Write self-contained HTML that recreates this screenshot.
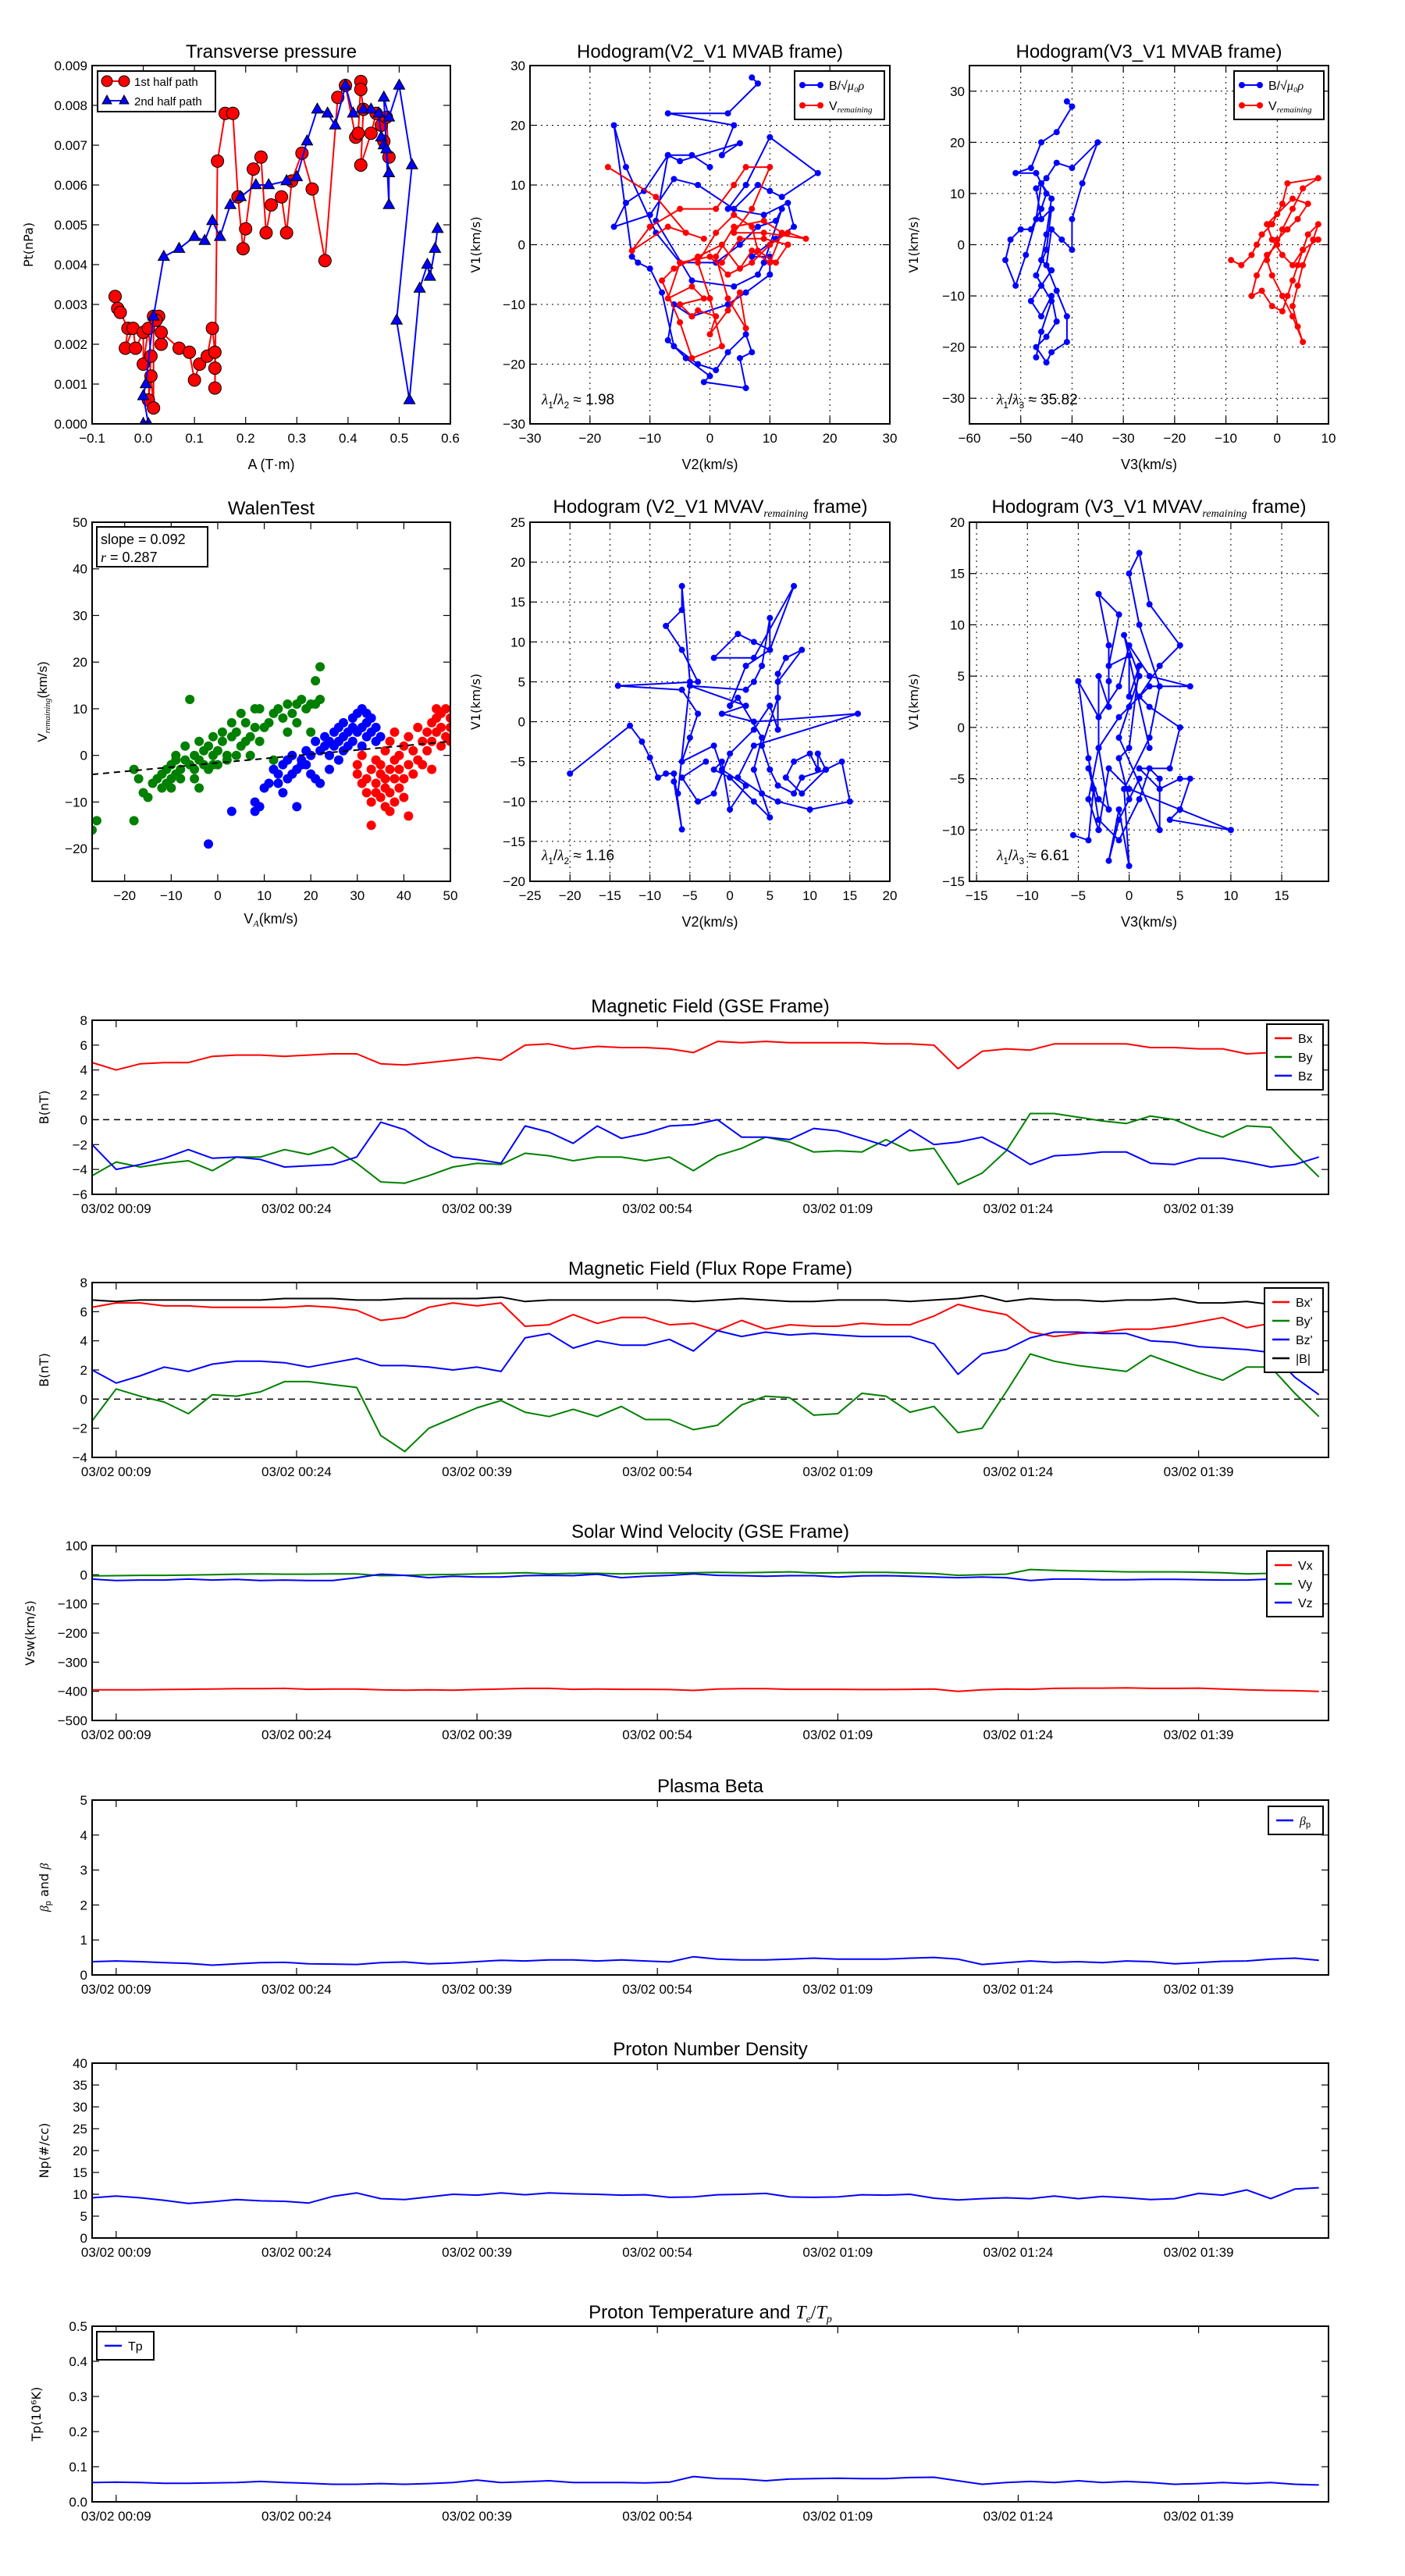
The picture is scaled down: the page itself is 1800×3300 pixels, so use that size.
<!DOCTYPE html>
<html><head><meta charset="utf-8">
<style>
html,body{margin:0;padding:0;background:#fff;}
svg{display:block;}
text{font-family:"Liberation Sans Narrow","Liberation Sans",sans-serif;fill:#000;}
</style></head>
<body>
<svg id="fig" xmlns="http://www.w3.org/2000/svg" width="1800" height="3300" viewBox="0 0 1800 3300"></svg>
<script>
// ---------- DATA ----------
const ptRedA = [-0.055,-0.05,-0.045,-0.03,-0.035,-0.02,-0.015,0.0,0.0,0.01,0.015,0.01,0.015,0.02,0.02,0.03,0.025,0.035,0.035,0.07,0.09,0.1,0.11,0.125,0.135,0.14,0.14,0.14,0.145,0.16,0.175,0.185,0.195,0.2,0.215,0.23,0.24,0.25,0.27,0.28,0.29,0.31,0.33,0.355,0.38,0.395,0.415,0.42,0.425,0.425,0.43,0.425,0.445,0.455,0.465,0.475,0.48,0.47];
const ptRedP = [0.0032,0.0029,0.0028,0.0024,0.0019,0.0024,0.0019,0.0023,0.0015,0.0024,0.0017,0.0006,0.0012,0.0004,0.0027,0.0027,0.0026,0.0020,0.0023,0.0019,0.0018,0.0011,0.0015,0.0017,0.0024,0.0018,0.0014,0.0009,0.0066,0.0078,0.0078,0.0057,0.0044,0.0049,0.0064,0.0067,0.0048,0.0055,0.0057,0.0048,0.0061,0.0068,0.0059,0.0041,0.0082,0.0085,0.0072,0.0073,0.0086,0.0084,0.0079,0.0065,0.0073,0.0078,0.0075,0.0077,0.0067,0.0071];
const ptBlueA = [0.0,0.01,0.0,0.005,0.02,0.04,0.07,0.1,0.12,0.135,0.15,0.17,0.19,0.22,0.245,0.28,0.3,0.32,0.34,0.36,0.375,0.395,0.41,0.43,0.445,0.46,0.465,0.47,0.475,0.48,0.48,0.47,0.48,0.5,0.525,0.495,0.52,0.54,0.555,0.56,0.57,0.575];
const ptBlueP = [0.0,0.0,0.0007,0.001,0.0027,0.0042,0.0044,0.0047,0.0046,0.0051,0.0047,0.0055,0.0057,0.006,0.006,0.0061,0.0062,0.0071,0.0079,0.0078,0.0075,0.0085,0.0078,0.0079,0.0079,0.0078,0.0072,0.007,0.0069,0.0063,0.0055,0.0082,0.0077,0.0085,0.0065,0.0026,0.0006,0.0034,0.004,0.0037,0.0044,0.0049];

const hB_blueX = [7,8,3,-7,4,2,5,-5,-7,-11,-14,-16,-10,-6,-2,4,8,10,12,18,10,6,3,9,13,14,11,7,10,10,6,3,-3,-6,-7,-4,0,-1,6,5,7,6,3,1,-2,-6,-8,-10,-12,-13,-16,-14,-9,-5,1,5,8,11,12,9,8,4,-3,-9,-7,-3,0];
const hB_blueY = [28,27,22,22,20,15,17,14,15,9,7,3,5,11,10,6,10,9,8,12,18,10,6,5,7,3,1,-2,-2,-5,-8,-10,-12,-10,-16,-19,-22,-23,-24,-19,-18,-15,-18,-21,-20,-17,-8,-4,-3,-2,20,13,2,-3,-3,0,3,4,6,-3,-5,-7,-6,4,15,15,13];
const hB_redX = [-17,-9,-4,-1,-7,-13,-10,-5,1,4,6,10,7,4,9,16,13,10,7,3,0,-5,-7,-3,-1,-5,-3,-2,1,0,3,5,6,3,1,4,9,12,10,7,5,2,-2,-6,-8,-5,-3,2,0,-2,1,4,7,8,11,13,9,5,2];
const hB_redY = [13,8,2,1,3,-1,3,6,6,10,13,13,6,2,2,1,2,0,-3,-5,-2,-3,-9,-7,-9,-10,-12,-11,-12,-15,-11,-8,-14,-9,-2,3,4,2,-3,-1,-4,0,-2,-4,-6,-13,-19,-17,-9,-3,2,5,3,-1,-3,0,1,1,-3];

const hC_blueX = [-41,-40,-43,-46,-48,-51,-47,-45,-46,-48,-50,-52,-53,-51,-49,-47,-46,-44,-45,-46,-44,-46,-48,-46,-44,-43,-45,-47,-45,-44,-41,-41,-43,-45,-44,-42,-40,-40,-38,-35,-40,-43,-45,-47,-46,-44,-45,-47,-44,-46,-47];
const hC_blueY = [28,27,22,20,15,14,14,10,7,3,3,1,-3,-8,-2,5,12,9,2,-3,-5,-8,-11,-14,-10,-15,-18,-20,-23,-21,-19,-14,-9,-4,3,1,-1,5,12,20,15,16,13,11,5,7,-1,-6,-11,-17,-22];
const hC_redX = [-9,-7,-5,-4,-3,-1,1,2,8,5,3,1,0,-2,-4,-5,-3,-1,1,2,3,4,5,6,8,7,5,4,3,4,5,3,1,-1,-2,0,2,4,6,3,0,-2,-1,1,3,5,8];
const hC_redY = [-3,-4,-2,0,2,4,8,12,13,11,7,3,0,-2,-6,-10,-9,-12,-13,-10,-7,-4,-1,2,4,1,-4,-8,-12,-16,-19,-14,-10,-6,-3,1,3,5,8,9,6,4,1,-2,-4,-1,1];

const walGreenX = [-27,-26,-18,-18,-17,-16,-15,-14,-13,-12,-12,-11,-11,-10,-10,-10,-9,-9,-9,-8,-8,-7,-7,-6,-6,-5,-5,-5,-4,-4,-3,-3,-2,-2,-1,-1,0,0,1,1,2,2,3,3,4,4,5,5,6,6,7,8,8,9,9,10,11,12,12,13,14,15,15,16,17,17,18,19,20,20,21,21,22,22,-1,-4,7];
const walGreenY = [-16,-14,-3,-14,-5,-8,-9,-6,-5,-7,-4,-6,-3,-7,-2,-5,-1,-4,0,-3,-5,-1,2,-2,12,0,-3,-5,3,-1,1,-2,2,-3,0,4,1,-2,5,3,0,-1,7,4,5,0,2,9,3,7,4,6,10,3,10,6,7,9,-1,10,8,11,5,9,11,7,12,10,11,5,16,11,19,12,-2,-7,0];
const walBlueX = [-2,3,8,8,9,10,11,12,13,13,14,15,15,16,16,17,17,18,18,19,19,20,21,21,22,22,23,23,24,24,25,25,26,26,27,27,27,28,28,29,29,29,30,30,31,31,31,32,32,32,33,33,34,34,35,26,24,20,14];
const walBlueY = [-19,-12,-10,-12,-11,-7,-6,-3,-6,-4,-2,-5,-1,-4,0,-11,-3,-1,-2,1,-2,0,3,-5,-6,1,4,2,3,0,5,2,6,3,4,1,7,5,2,8,6,3,9,5,10,6,2,9,7,4,8,5,3,6,4,-1,-3,-4,-8];
const walRedX = [30,30,31,31,32,32,33,33,33,34,34,34,35,35,35,36,36,36,37,37,37,37,38,38,38,39,39,39,40,40,40,41,41,41,42,42,43,43,44,44,45,45,46,46,46,47,47,47,48,48,48,49,49,50,50,50,38,36];
const walRedY = [-4,-2,0,-6,-5,-8,-3,-10,-15,-1,-6,-8,-4,-9,-2,-5,-7,1,-3,-8,-12,3,-5,-1,-10,-7,0,-3,2,-5,-9,-2,4,-13,-4,1,-1,6,3,-2,5,1,7,-3,3,10,5,8,2,9,6,10,4,8,6,3,5,-11];
const walSlope = 0.092, walIntercept = -1.6;

const hE_X = [-20,-12.5,-11,-10,-9,-8,-7,-6,-7,-6.5,-5,-6,-6,-8,-6,-4,-14,-6,-4,-5,-6,-2,-1,2,0,-1,-2,0,3,5,3,4,1,0,2,5,8,3,-2,1,3,5,5,4,3,2,-5,2,-1,3,16,3,1,4,6,10,15,14,12,9,7,8,10,11,11,12,9,8,6,5,4,6,6,7,9,6,6,5,3,0,-2,-4,-6,-3];
const hE_Y = [-6.5,-0.5,-2.5,-4.5,-7,-6.5,-6.5,-13.5,-7.5,-9,5,17,14,12,9,5,4.5,4,1,-2,-5,-3,-6,-8,-11,-5,-6,-7,-10,-12,-6,-2,3,2,7,9,17,8,8,11,10,9,13,7,5,4,4.5,2,1,0,1,-3,-7,-9,-10,-11,-10,-5,-6,-9,-7,-5,-4,-6,-4,-6,-7,-9,-8,-6,-3,3,6,8,9,5,-1,2,-1,-4,-9,-10,-7,-5];
const hF_X = [-5.5,-4,-3.5,-4,-3,-2,-3,-3,-2,-2,-2,-3,-1,-2,0,0,1,0,-1,0,1,-1,-2,-1,0,-0.5,2,3,1,0,1,2,5,3,1,2,5,4,1,3,5,6,5,4,10,5,0,-2,-3,-4,-3,-1,2,6,2,0,-1,-3,-5,-4,-3,-1,1,2,3,3,-1,0,1,-0.5,2];
const hF_Y = [-10.5,-11,-6,-4,-7,-8,-2,5,2,4.5,8,13,11,6,7,3,6,-2,-3,-7,-5,-9,-13,-8,-13.5,-6,-1,4,10,15,17,12,8,6,3,2,0,-4,-4,-6,-5,-5,-8,-9,-10,-8,-6,-4,-10,-7,-2,1,4,4,5,8,4,1,4.5,-3,-9,-11,-7,-4,-5,-10,-1,2,5,9,-2];

// time series: minutes after 00:00, 2-min cadence
const tStart = 7, tStep = 2;
const tickMinutes = [9,24,39,54,69,84,99];
const tickLabels = ['03/02 00:09','03/02 00:24','03/02 00:39','03/02 00:54','03/02 01:09','03/02 01:24','03/02 01:39'];
const gseBx = [4.6,4.0,4.5,4.6,4.6,5.1,5.2,5.2,5.1,5.2,5.3,5.3,4.5,4.4,4.6,4.8,5.0,4.8,6.0,6.1,5.7,5.9,5.8,5.8,5.7,5.4,6.3,6.2,6.3,6.2,6.2,6.2,6.2,6.1,6.1,6.0,4.1,5.5,5.7,5.6,6.1,6.1,6.1,6.1,5.8,5.8,5.7,5.7,5.3,5.4,5.3,3.0];
const gseBy = [-4.5,-3.4,-3.8,-3.5,-3.3,-4.1,-3.0,-3.0,-2.4,-2.8,-2.2,-3.5,-5.0,-5.1,-4.5,-3.8,-3.5,-3.6,-2.7,-2.9,-3.3,-3.0,-3.0,-3.3,-3.0,-4.1,-2.9,-2.3,-1.4,-1.8,-2.6,-2.5,-2.6,-1.6,-2.5,-2.3,-5.2,-4.3,-2.5,0.5,0.5,0.2,-0.1,-0.3,0.3,0.0,-0.8,-1.4,-0.5,-0.6,-2.7,-4.6];
const gseBz = [-2.0,-4.0,-3.6,-3.1,-2.4,-3.1,-3.0,-3.2,-3.8,-3.7,-3.6,-3.0,-0.2,-0.8,-2.1,-3.0,-3.2,-3.5,-0.5,-1.0,-1.9,-0.5,-1.5,-1.1,-0.5,-0.4,0.0,-1.4,-1.4,-1.6,-0.7,-0.9,-1.5,-2.1,-0.8,-2.0,-1.8,-1.4,-2.4,-3.6,-2.9,-2.8,-2.6,-2.6,-3.5,-3.6,-3.1,-3.1,-3.4,-3.8,-3.6,-3.0];
const frBx = [6.3,6.6,6.6,6.4,6.4,6.3,6.3,6.3,6.3,6.4,6.3,6.1,5.4,5.6,6.3,6.6,6.4,6.6,5.0,5.1,5.8,5.2,5.6,5.6,5.1,5.2,4.7,5.4,4.8,5.1,5.0,5.0,5.2,5.1,5.1,5.7,6.5,6.1,5.8,4.6,4.3,4.5,4.6,4.8,4.8,5.0,5.3,5.6,4.9,5.2,5.7,6.3];
const frBy = [-1.5,0.7,0.2,-0.2,-1.0,0.3,0.2,0.5,1.2,1.2,1.0,0.8,-2.5,-3.6,-2.0,-1.3,-0.6,-0.1,-0.9,-1.2,-0.7,-1.2,-0.5,-1.4,-1.4,-2.1,-1.8,-0.4,0.2,0.1,-1.1,-1.0,0.4,0.2,-0.9,-0.5,-2.3,-2.0,0.5,3.1,2.6,2.3,2.1,1.9,3.0,2.4,1.8,1.3,2.2,2.2,0.4,-1.2];
const frBz = [2.0,1.1,1.6,2.2,1.9,2.4,2.6,2.6,2.5,2.2,2.5,2.8,2.3,2.3,2.2,2.0,2.2,1.9,4.2,4.5,3.5,4.0,3.7,3.7,4.1,3.3,4.7,4.3,4.6,4.4,4.5,4.4,4.3,4.3,4.3,3.8,1.7,3.1,3.4,4.2,4.6,4.6,4.5,4.5,4.0,3.9,3.6,3.5,3.4,3.2,1.5,0.3];
const frB = [6.8,6.7,6.8,6.8,6.8,6.8,6.8,6.8,6.9,6.9,6.9,6.8,6.8,6.9,6.9,6.9,6.9,7.0,6.7,6.8,6.8,6.8,6.8,6.8,6.8,6.7,6.8,6.9,6.8,6.7,6.7,6.8,6.8,6.8,6.7,6.8,6.9,7.1,6.7,6.9,6.8,6.8,6.7,6.8,6.8,6.9,6.6,6.6,6.7,6.5,6.7,6.7];
const vx = [-395,-395,-395,-394,-393,-392,-391,-391,-390,-393,-392,-392,-395,-396,-395,-396,-394,-392,-390,-390,-393,-392,-393,-393,-394,-397,-392,-391,-391,-393,-393,-393,-394,-394,-393,-392,-400,-395,-392,-393,-390,-389,-389,-388,-390,-390,-389,-392,-395,-397,-398,-400];
const vy = [-4,-3,-2,-2,-1,0,2,3,2,2,3,3,-3,-2,0,1,3,5,7,3,5,5,3,5,6,7,8,7,8,10,6,7,8,8,6,4,-2,0,2,18,15,13,12,10,10,10,9,7,3,5,3,1];
const vz = [-15,-20,-18,-18,-15,-18,-16,-20,-18,-20,-20,-10,2,-2,-10,-5,-8,-8,-3,-2,-3,2,-10,-5,-2,3,-2,-3,-5,-3,-3,-8,-4,-3,-5,-8,-10,-8,-10,-20,-15,-15,-17,-17,-16,-16,-17,-18,-18,-15,-17,-18];
const betaP = [0.38,0.40,0.38,0.35,0.33,0.28,0.32,0.35,0.36,0.32,0.31,0.30,0.35,0.37,0.32,0.34,0.38,0.42,0.40,0.43,0.43,0.40,0.43,0.40,0.37,0.52,0.45,0.43,0.43,0.45,0.48,0.45,0.45,0.45,0.48,0.50,0.45,0.30,0.35,0.40,0.36,0.38,0.35,0.40,0.38,0.32,0.35,0.39,0.40,0.45,0.48,0.42];
const np = [9.2,9.6,9.2,8.6,7.9,8.3,8.8,8.5,8.4,8.0,9.5,10.3,9.0,8.8,9.4,10.0,9.8,10.3,9.9,10.3,10.1,10.0,9.8,9.9,9.3,9.4,9.9,10.0,10.2,9.4,9.3,9.4,9.9,9.8,10.0,9.1,8.7,9.0,9.2,9.0,9.6,9.0,9.5,9.2,8.8,9.0,10.2,9.8,11.0,9.0,11.2,11.5];
const tp = [0.055,0.056,0.055,0.053,0.053,0.054,0.055,0.058,0.055,0.053,0.050,0.050,0.052,0.050,0.052,0.055,0.062,0.055,0.057,0.060,0.055,0.055,0.055,0.054,0.056,0.072,0.066,0.065,0.060,0.065,0.066,0.067,0.066,0.066,0.069,0.070,0.060,0.050,0.055,0.058,0.055,0.060,0.055,0.058,0.055,0.050,0.052,0.055,0.052,0.055,0.050,0.048];

// ---------- DRAWING ----------
const NS = 'http://www.w3.org/2000/svg';
const svg = document.getElementById('fig');
function el(tag, attrs, parent){
  const e = document.createElementNS(NS, tag);
  for (const k in attrs) e.setAttribute(k, attrs[k]);
  (parent||svg).appendChild(e);
  return e;
}
function txt(s, x, y, size, anchor, parent, extra){
  const t = el('text', Object.assign({x:x, y:y, 'font-size':size, 'text-anchor':anchor||'middle'}, extra||{}), parent);
  t.textContent = s;
  return t;
}
function range(a,b,s){const r=[];for(let v=a;v<=b+1e-9;v+=s)r.push(+v.toFixed(6));return r;}

function makePanel(p){
  const g = el('g', {});
  
  
  const sx = v => p.x0 + (v - p.xmin)/(p.xmax - p.xmin)*(p.x1 - p.x0);
  const sy = v => p.y1 - (v - p.ymin)/(p.ymax - p.ymin)*(p.y1 - p.y0);
  if (p.grid){
    p.xticks.forEach(v=>{const l=el('line',{x1:sx(v),x2:sx(v),y1:p.y0,y2:p.y1,stroke:'#000','stroke-width':1,'stroke-dasharray':'2,5'},g);
      });
    p.yticks.forEach(v=>{const l=el('line',{x1:p.x0,x2:p.x1,y1:sy(v),y2:sy(v),stroke:'#000','stroke-width':1,'stroke-dasharray':'2,5'},g);
      });
  }
  p.xticks.forEach((v,i)=>{
    const X=sx(v);
    el('line',{x1:X,x2:X,y1:p.y1,y2:p.y1-9,stroke:'#000','stroke-width':1.2},g);
    el('line',{x1:X,x2:X,y1:p.y0,y2:p.y0+9,stroke:'#000','stroke-width':1.2},g);
    const t=txt(p.xfmt?p.xfmt(v,i):String(v), X, p.y1+24, p.tickSize||17, 'middle', g);
    
  });
  p.yticks.forEach(v=>{
    const Y=sy(v);
    el('line',{x1:p.x0,x2:p.x0+9,y1:Y,y2:Y,stroke:'#000','stroke-width':1.2},g);
    el('line',{x1:p.x1,x2:p.x1-9,y1:Y,y2:Y,stroke:'#000','stroke-width':1.2},g);
    const t=txt(p.yfmt?p.yfmt(v):String(v), p.x0-6, Y+6, p.tickSize||17, 'end', g);
    
  });
  if (p.title){const t=txt(p.title, (p.x0+p.x1)/2, p.y0-10, p.titleSize||24, 'middle', g);
    }
  if (p.xlabel){const t=txt(p.xlabel,(p.x0+p.x1)/2,p.y1+58,18,'middle',g);
    }
  if (p.ylabel){const t=txt(p.ylabel,0,0,17,'middle',g,{transform:`translate(${p.ylabelX},${(p.y0+p.y1)/2}) rotate(-90)`, style:'font-family:"DejaVu Sans",sans-serif;font-size:16px'});
    }
  const clip = 'clip_'+p.name;
  const cp = el('clipPath',{id:clip},g); el('rect',{x:p.x0,y:p.y0,width:p.x1-p.x0,height:p.y1-p.y0},cp);
  const plot = el('g',{'clip-path':`url(#${clip})`},g);
  
  
  const frame = el('rect',{x:p.x0,y:p.y0,width:p.x1-p.x0,height:p.y1-p.y0,fill:'none',stroke:'#000','stroke-width':2},g);
  
  
  return {g, plot, sx, sy, p, frame};
}
function poly(ax, xs, ys, color, w, name){
  const pts = xs.map((x,i)=>ax.sx(x).toFixed(1)+','+ax.sy(ys[i]).toFixed(1)).join(' ');
  const l = el('polyline',{points:pts,fill:'none',stroke:color,'stroke-width':w||2,'stroke-linejoin':'round'},ax.plot);
  
  
  return l;
}
function dots(ax, xs, ys, color, r, name, shape){
  const g = el('g',{},ax.plot);
  
  
  xs.forEach((x,i)=>{
    const X=ax.sx(x), Y=ax.sy(ys[i]);
    if (shape==='tri'){
      el('polygon',{points:`${X},${Y-r} ${X-r*0.9},${Y+r*0.6} ${X+r*0.9},${Y+r*0.6}`,fill:color,stroke:'#000','stroke-width':1},g);
    } else {
      el('circle',{cx:X,cy:Y,r:r,fill:color,stroke:shape==='edge'?'#000':'none','stroke-width':1},g);
    }
  });
  return g;
}
function legendBox(x,y,w,h,name){
  const g = el('g',{});
  
  
  el('rect',{x:x,y:y,width:w,height:h,fill:'#fff',stroke:'#000','stroke-width':2},g);
  return g;
}
function lambdaText(x,y,sub,val,name){
  const t = el('text',{x:x,y:y,'font-size':19,'text-anchor':'start'});
  
  
  t.innerHTML = `<tspan font-style="italic" font-family="Liberation Serif">λ</tspan><tspan font-size="12" dy="5">1</tspan><tspan dy="-5">/</tspan><tspan font-style="italic" font-family="Liberation Serif">λ</tspan><tspan font-size="12" dy="5">${sub}</tspan><tspan dy="-5"> ≈ ${val}</tspan>`;
}

// ---- Panel A
const A = makePanel({name:'transverse-pressure-panel',x0:118,x1:577,y0:84,y1:543,xmin:-0.1,xmax:0.6,ymin:0,ymax:0.009,
  xticks:range(-0.1,0.6,0.1),yticks:range(0,0.009,0.001),xfmt:v=>v.toFixed(1).replace('-','−'),yfmt:v=>v.toFixed(3),
  title:'Transverse pressure',xlabel:'A (T·m)',ylabel:'Pt(nPa)',ylabelX:42});
poly(A,ptRedA,ptRedP,'#f00',2,'first-half-line');
dots(A,ptRedA,ptRedP,'#f00',8,'first-half-markers','edge');
poly(A,ptBlueA,ptBlueP,'#00f',2,'second-half-line');
dots(A,ptBlueA,ptBlueP,'#00f',8,'second-half-markers','tri');
{const lg=legendBox(125,91,151,52,'pressure-legend');
 el('line',{x1:133,x2:163,y1:104,y2:104,stroke:'#f00','stroke-width':2},lg);
 el('circle',{cx:137,cy:104,r:7,fill:'#f00',stroke:'#000'},lg);el('circle',{cx:159,cy:104,r:7,fill:'#f00',stroke:'#000'},lg);
 txt('1st half path',172,110,15,'start',lg);
 el('line',{x1:133,x2:163,y1:129,y2:129,stroke:'#00f','stroke-width':2},lg);
 el('polygon',{points:'137,122 131,133 143,133',fill:'#00f',stroke:'#000'},lg);el('polygon',{points:'159,122 153,133 165,133',fill:'#00f',stroke:'#000'},lg);
 txt('2nd half path',172,135,15,'start',lg);}

function hodoLegend(x,y,name){
  const lg=legendBox(x,y,115,62,name);
  el('line',{x1:x+8,x2:x+35,y1:y+18,y2:y+18,stroke:'#00f','stroke-width':2},lg);
  el('circle',{cx:x+10,cy:y+18,r:4,fill:'#00f'},lg);el('circle',{cx:x+33,cy:y+18,r:4,fill:'#00f'},lg);
  const t1=el('text',{x:x+44,y:y+24,'font-size':16},lg); t1.innerHTML='B/√<tspan font-style="italic" font-family="Liberation Serif">μ₀ρ</tspan>';
  el('line',{x1:x+8,x2:x+35,y1:y+44,y2:y+44,stroke:'#f00','stroke-width':2},lg);
  el('circle',{cx:x+10,cy:y+44,r:4,fill:'#f00'},lg);el('circle',{cx:x+33,cy:y+44,r:4,fill:'#f00'},lg);
  const t2=el('text',{x:x+44,y:y+50,'font-size':16},lg); t2.innerHTML='V<tspan font-size="11" dy="3" font-style="italic" font-family="Liberation Serif">remaining</tspan>';
}
// ---- Panel B
const B = makePanel({name:'hodogram-v2-v1-mvab-panel',x0:679,x1:1140,y0:84,y1:543,xmin:-30,xmax:30,ymin:-30,ymax:30,grid:true,
  xticks:range(-30,30,10),yticks:range(-30,30,10),xfmt:v=>String(v).replace('-','−'),yfmt:v=>String(v).replace('-','−'),
  title:'Hodogram(V2_V1 MVAB frame)',xlabel:'V2(km/s)',ylabel:'V1(km/s)',ylabelX:615});
poly(B,hB_blueX,hB_blueY,'#00f',2,'b-field-path');dots(B,hB_blueX,hB_blueY,'#00f',4,'b-field-points');
poly(B,hB_redX,hB_redY,'#f00',2,'v-remaining-path');dots(B,hB_redX,hB_redY,'#f00',4,'v-remaining-points');
hodoLegend(1018,91,'hodogram-b-legend');
lambdaText(694,518,'2','1.98','eigenvalue-ratio-b');
// ---- Panel C
const C = makePanel({name:'hodogram-v3-v1-mvab-panel',x0:1242,x1:1702,y0:84,y1:543,xmin:-60,xmax:10,ymin:-35,ymax:35,grid:true,
  xticks:range(-60,10,10),yticks:range(-30,30,10),xfmt:v=>String(v).replace('-','−'),yfmt:v=>String(v).replace('-','−'),
  title:'Hodogram(V3_V1 MVAB frame)',xlabel:'V3(km/s)',ylabel:'V1(km/s)',ylabelX:1176});
poly(C,hC_blueX,hC_blueY,'#00f',2,'b-field-path');dots(C,hC_blueX,hC_blueY,'#00f',4,'b-field-points');
poly(C,hC_redX,hC_redY,'#f00',2,'v-remaining-path');dots(C,hC_redX,hC_redY,'#f00',4,'v-remaining-points');
hodoLegend(1581,91,'hodogram-c-legend');
lambdaText(1277,518,'3','35.82','eigenvalue-ratio-c');
// ---- Panel D
const D = makePanel({name:'walen-test-panel',x0:118,x1:577,y0:669,y1:1129,xmin:-27,xmax:50,ymin:-27,ymax:50,
  xticks:range(-20,50,10),yticks:range(-20,50,10),xfmt:v=>String(v).replace('-','−'),yfmt:v=>String(v).replace('-','−'),
  title:'WalenTest',xlabel:'',ylabel:'',ylabelX:50});
dots(D,walGreenX,walGreenY,'#008000',6,'walen-green-points');
dots(D,walBlueX,walBlueY,'#00f',6,'walen-blue-points');
dots(D,walRedX,walRedY,'#f00',6,'walen-red-points');
{const l=el('line',{x1:D.sx(-27),y1:D.sy(walSlope*-27+walIntercept),x2:D.sx(50),y2:D.sy(walSlope*50+walIntercept),stroke:'#000','stroke-width':2,'stroke-dasharray':'8,6'},D.plot);
 }
{const lg=legendBox(124,675,142,51,'walen-stats-box');
 txt('slope = 0.092',129,697,18,'start',lg);
 const t=el('text',{x:129,y:720,'font-size':18},lg); t.innerHTML='<tspan font-style="italic" font-family="Liberation Serif">r</tspan> = 0.287';}
{const t=el('text',{x:0,y:0,'font-size':17,transform:'translate(60,899) rotate(-90)','text-anchor':'middle'});
 
 t.innerHTML='V<tspan font-size="11" font-style="italic" font-family="Liberation Serif" dy="4">remaining</tspan><tspan dy="-4">(km/s)</tspan>';
 const t2=el('text',{x:347,y:1183,'font-size':18,'text-anchor':'middle'});
 
 t2.innerHTML='V<tspan font-size="12" font-style="italic" font-family="Liberation Serif" dy="4">A</tspan><tspan dy="-4">(km/s)</tspan>';}
// ---- Panel E
const E = makePanel({name:'hodogram-v2-v1-mvav-panel',x0:679,x1:1140,y0:669,y1:1129,xmin:-25,xmax:20,ymin:-20,ymax:25,grid:true,
  xticks:range(-25,20,5),yticks:range(-20,25,5),xfmt:v=>String(v).replace('-','−'),yfmt:v=>String(v).replace('-','−'),
  title:'',xlabel:'V2(km/s)',ylabel:'V1(km/s)',ylabelX:615});
poly(E,hE_X,hE_Y,'#00f',2,'hodogram-path');dots(E,hE_X,hE_Y,'#00f',4,'hodogram-points');
lambdaText(694,1102,'2','1.16','eigenvalue-ratio-e');
// ---- Panel F
const F = makePanel({name:'hodogram-v3-v1-mvav-panel',x0:1242,x1:1702,y0:669,y1:1129,xmin:-15.7,xmax:19.6,ymin:-15,ymax:20,grid:true,
  xticks:range(-15,15,5),yticks:range(-15,20,5),xfmt:v=>String(v).replace('-','−'),yfmt:v=>String(v).replace('-','−'),
  title:'',xlabel:'V3(km/s)',ylabel:'V1(km/s)',ylabelX:1176});
poly(F,hF_X,hF_Y,'#00f',2,'hodogram-path');dots(F,hF_X,hF_Y,'#00f',4,'hodogram-points');
lambdaText(1277,1102,'3','6.61','eigenvalue-ratio-f');
[[910,'V2_V1'],[1472,'V3_V1']].forEach(([cx,lab])=>{
  const t=el('text',{x:cx,y:657,'font-size':24,'text-anchor':'middle'});
  
  t.innerHTML=`Hodogram (${lab} MVAV<tspan font-size="14" font-style="italic" font-family="Liberation Serif" dy="5">remaining</tspan><tspan dy="-5"> frame)</tspan>`;
});

// ---- Time series panels
const times = gseBx.map((_,i)=>tStart+i*tStep);
function timePanel(name,y0,y1,ymin,ymax,yticks,title,ylabel,yfmt,ylabelX){
  return makePanel({name:name,x0:118,x1:1702,y0:y0,y1:y1,xmin:7,xmax:109.8,ymin:ymin,ymax:ymax,
    xticks:tickMinutes,yticks:yticks,xfmt:(v,i)=>tickLabels[i],yfmt:yfmt||(v=>String(v).replace('-','−')),
    title:title,ylabel:ylabel,ylabelX:ylabelX||62,tickSize:17});
}
function zeroLine(ax){const l=el('line',{x1:ax.p.x0,x2:ax.p.x1,y1:ax.sy(0),y2:ax.sy(0),stroke:'#000','stroke-width':1.5,'stroke-dasharray':'8,6'},ax.plot);
  }
function tsLegend(x,y,w,items,name){
  const lg=legendBox(x,y,w,12+items.length*24,name);
  items.forEach((it,i)=>{
    el('line',{x1:x+10,x2:x+32,y1:y+18+i*24,y2:y+18+i*24,stroke:it[1],'stroke-width':2.5},lg);
    const t=el('text',{x:x+40,y:y+24+i*24,'font-size':16},lg); t.innerHTML=it[0];
  });
}
const G1 = timePanel('magnetic-field-gse-panel',1307,1530,-6,8,range(-6,8,2),'Magnetic Field (GSE Frame)','B(nT)');
zeroLine(G1);
poly(G1,times,gseBx,'#f00',2,'bx-line');poly(G1,times,gseBy,'#008000',2,'by-line');poly(G1,times,gseBz,'#00f',2,'bz-line');
tsLegend(1623,1312,72,[['Bx','#f00'],['By','#008000'],['Bz','#00f']],'gse-legend');

const G2 = timePanel('magnetic-field-flux-rope-panel',1643,1867,-4,8,range(-4,8,2),'Magnetic Field (Flux Rope Frame)','B(nT)');
zeroLine(G2);
poly(G2,times,frBx,'#f00',2,'bx-prime-line');poly(G2,times,frBy,'#008000',2,'by-prime-line');poly(G2,times,frBz,'#00f',2,'bz-prime-line');poly(G2,times,frB,'#000',2,'b-magnitude-line');
tsLegend(1620,1650,75,[["Bx'",'#f00'],["By'",'#008000'],["Bz'",'#00f'],['|B|','#000']],'flux-rope-legend');

const G3 = timePanel('solar-wind-velocity-panel',1980,2204,-500,100,range(-500,100,100),'Solar Wind Velocity (GSE Frame)','Vsw(km/s)',null,44);
poly(G3,times,vx,'#f00',2,'vx-line');poly(G3,times,vy,'#008000',2,'vy-line');poly(G3,times,vz,'#00f',2,'vz-line');
tsLegend(1623,1987,72,[['Vx','#f00'],['Vy','#008000'],['Vz','#00f']],'velocity-legend');

const G4 = timePanel('plasma-beta-panel',2306,2530,0,5,range(0,5,1),'Plasma Beta','',null);
poly(G4,times,betaP,'#00f',2,'beta-p-line');
tsLegend(1625,2314,70,[['<tspan font-style="italic" font-family="Liberation Serif">β</tspan><tspan font-size="11" dy="3">p</tspan>','#00f']],'beta-legend');
{const t=el('text',{x:0,y:0,'font-size':16,transform:'translate(62,2418) rotate(-90)','text-anchor':'middle'});
 
 t.innerHTML='<tspan font-style="italic" font-family="Liberation Serif">β</tspan><tspan font-size="11" dy="3">p</tspan><tspan dy="-3" font-family="DejaVu Sans"> and </tspan><tspan font-style="italic" font-family="Liberation Serif">β</tspan>';}

const G5 = timePanel('proton-density-panel',2643,2867,0,40,range(0,40,5),'Proton Number Density','Np(#/cc)');
poly(G5,times,np,'#00f',2,'density-line');

const G6 = timePanel('proton-temperature-panel',2980,3205,0,0.5,range(0,0.5,0.1),'','Tp(10⁶K)',v=>v.toFixed(1),52);
poly(G6,times,tp,'#00f',2,'temperature-line');
tsLegend(124,2987,73,[['Tp','#00f']],'temperature-legend');
{const t=el('text',{x:910,y:2970,'font-size':24,'text-anchor':'middle'});
 
 t.innerHTML='Proton Temperature and <tspan font-style="italic" font-family="Liberation Serif">T</tspan><tspan font-size="14" dy="5" font-style="italic" font-family="Liberation Serif">e</tspan><tspan dy="-5" font-family="Liberation Serif">/</tspan><tspan font-style="italic" font-family="Liberation Serif">T</tspan><tspan font-size="14" dy="5" font-style="italic" font-family="Liberation Serif">p</tspan>';}
</script>
</body></html>
